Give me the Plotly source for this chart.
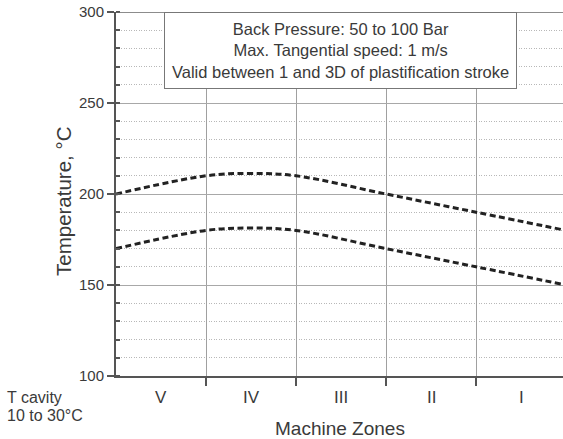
import plotly.graph_objects as go

# Data
x_pos = [0, 1, 1.5, 2, 3, 4, 5]
upper_temp = [200, 210, 211.3, 210, 200, 190, 180]
lower_temp = [170, 180, 181.3, 180, 170, 160, 150]
zone_labels = ["V", "IV", "III", "II", "I"]
zone_centers = [0.5, 1.5, 2.5, 3.5, 4.5]
zone_bounds = [1, 2, 3, 4]
y_ticks = [100, 150, 200, 250, 300]

FONT = "Liberation Sans"
TXT = "#3a3a3a"

L, T, W, H = 116, 12, 447, 364  # plot area in pixels


def px(xp):
    return (xp - L) / W


def py(yp):
    return (T + H - yp) / H


fig = go.Figure()
for ys in (upper_temp, lower_temp):
    fig.add_trace(go.Scatter(
        x=x_pos, y=ys, mode="lines",
        line=dict(color="#222222", width=3, dash="6px,3.5px", shape="spline", smoothing=1.0),
        showlegend=False, hoverinfo="skip"))

fig.update_layout(
    width=563, height=439,
    margin=dict(l=L, r=0, t=T, b=439 - T - H),
    plot_bgcolor="white", paper_bgcolor="white",
    font=dict(family=FONT, color=TXT, size=15),
    xaxis=dict(
        range=[0, W / 90], tickvals=zone_bounds, ticktext=["" for _ in zone_bounds],
        showgrid=True, gridcolor="#a0a0a0", gridwidth=1,
        showline=True, linecolor="#555555", linewidth=2,
        ticks="outside", ticklen=8, tickwidth=1.5, tickcolor="#555555",
        zeroline=False, fixedrange=True, automargin=False),
    yaxis=dict(
        range=[100, 300], tickvals=y_ticks,
        showgrid=True, gridcolor="#a8a8a8", gridwidth=1,
        showline=True, linecolor="#555555", linewidth=2,
        ticks="outside", ticklen=7, tickwidth=1.5, tickcolor="#555555",
        tickfont=dict(size=15, color=TXT),
        zeroline=False, automargin=False,
        minor=dict(dtick=10, showgrid=True, gridcolor="#b8b8b8", griddash="1px,1.5px",
                   gridwidth=1, ticks="inside", ticklen=4, tickcolor="#555555"),
    ),
)

# top border line
fig.add_shape(type="line", xref="paper", yref="y", x0=0, x1=1, y0=300, y1=300,
              line=dict(color="#666666", width=1.5))

# zone labels
for xc, lab in zip(zone_centers, zone_labels):
    fig.add_annotation(x=xc, y=py(397), xref="x", yref="paper", text=lab, showarrow=False,
                       font=dict(size=17, color=TXT), yanchor="middle")

# titles
fig.add_annotation(x=px(340), y=py(428), xref="paper", yref="paper", text="Machine Zones",
                   showarrow=False, xanchor="center", yanchor="middle",
                   font=dict(size=19, color=TXT))
fig.add_annotation(x=px(64), y=py(201), xref="paper", yref="paper",
                   text="Temperature, °C", textangle=-90, showarrow=False,
                   font=dict(size=20.5, color=TXT), xanchor="center", yanchor="middle")
fig.add_annotation(x=px(5), y=py(397), xref="paper", yref="paper",
                   text="T cavity", showarrow=False, align="left",
                   font=dict(size=16, color=TXT), xanchor="left", yanchor="middle")
fig.add_annotation(x=px(5), y=py(415), xref="paper", yref="paper",
                   text="10 to 30°C", showarrow=False, align="left",
                   font=dict(size=16, color=TXT), xanchor="left", yanchor="middle")

# info box
fig.add_annotation(x=px(340), y=py(51), xref="paper", yref="paper",
                   text="Back Pressure: 50 to 100 Bar<br>Max. Tangential speed: 1 m/s<br>Valid between 1 and 3D of plastification stroke",
                   showarrow=False, align="center", bgcolor="white",
                   bordercolor="#777777", borderwidth=1, borderpad=7,
                   font=dict(size=16.5, color=TXT), xanchor="center", yanchor="middle")

fig.write_html("out.html", post_script="document.body.style.margin='0';",
               config={"displayModeBar": False})
